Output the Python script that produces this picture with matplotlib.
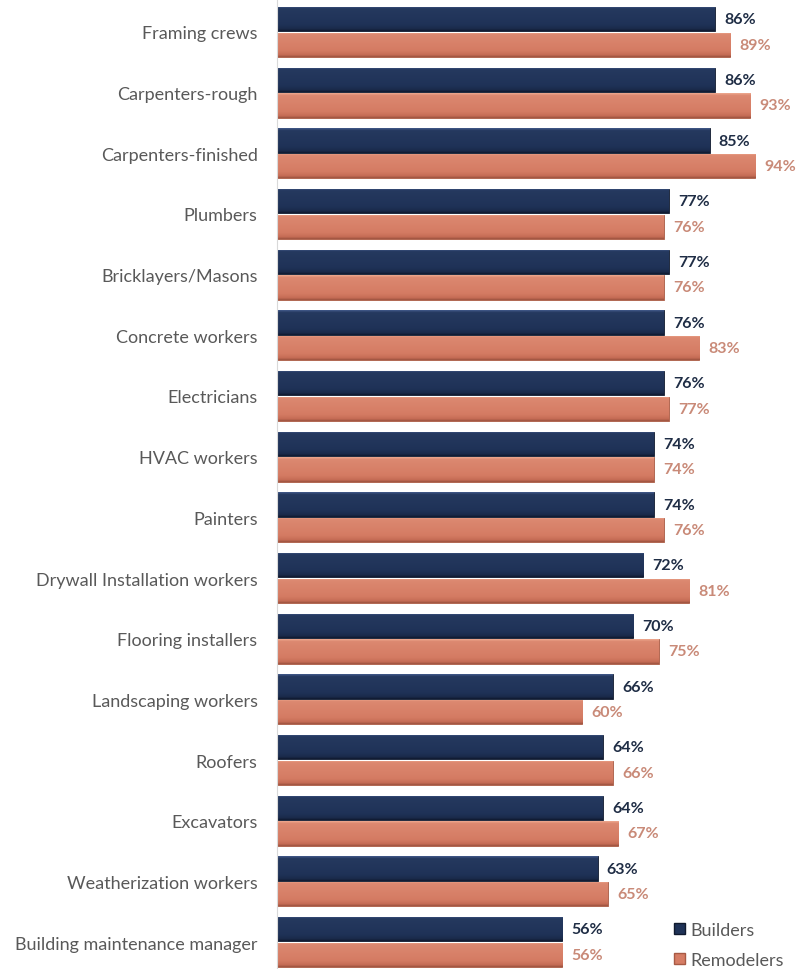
import numpy as np
import matplotlib.pyplot as plt
from matplotlib.colors import LinearSegmentedColormap
from matplotlib.patches import Patch

categories = [
    "Framing crews", "Carpenters-rough", "Carpenters-finished", "Plumbers",
    "Bricklayers/Masons", "Concrete workers", "Electricians", "HVAC workers",
    "Painters", "Drywall Installation workers", "Flooring installers",
    "Landscaping workers", "Roofers", "Excavators", "Weatherization workers",
    "Building maintenance manager",
]
builders = [86, 86, 85, 77, 77, 76, 76, 74, 74, 72, 70, 66, 64, 64, 63, 56]
remodelers = [89, 93, 94, 76, 76, 83, 77, 74, 76, 81, 75, 60, 66, 67, 65, 56]

NAVY = "#1f3257"
CORAL = "#d67d65"
navy_cmap = LinearSegmentedColormap.from_list(
    "navy", [(0, "#42598a"), (0.09, "#25395f"), (0.75, "#1f3257"),
             (0.92, "#1a2a4a"), (1, "#101a30")])
coral_cmap = LinearSegmentedColormap.from_list(
    "coral", [(0, "#eda88f"), (0.09, "#dc8870"), (0.75, "#d47b63"),
              (0.92, "#c56c55"), (1, "#9e5440")])

plt.rcParams["font.family"] = ["Lato", "DejaVu Sans"]

fig = plt.figure(figsize=(7.99, 9.70), dpi=100)
ax = fig.add_axes([277 / 799, 0, 522 / 799, 1])

y = np.arange(len(categories))
h = 0.40
off = 0.21
b_bars = ax.barh(y - off, builders, height=h, color=NAVY,
                 edgecolor="#101a2e", linewidth=0.6)
r_bars = ax.barh(y + off, remodelers, height=h, color=CORAL,
                 edgecolor="#a85a44", linewidth=0.6)

# bevel-like shading inside each bar
grad = np.linspace(0, 1, 64).reshape(-1, 1)
for bars, cmap in ((b_bars, navy_cmap), (r_bars, coral_cmap)):
    for p in bars:
        x0, y0, w, hh = p.get_x(), p.get_y(), p.get_width(), p.get_height()
        im = ax.imshow(grad, cmap=cmap, aspect="auto", origin="upper",
                       extent=[x0, x0 + w, y0 + hh, y0], zorder=2)
        im.set_clip_path(p)

for yi, v in zip(y, builders):
    ax.text(v + 1.8, yi - off, f"{v}%", va="center", ha="left",
            fontsize=11.5, fontweight="bold", color="#1f2d45")
for yi, v in zip(y, remodelers):
    ax.text(v + 1.8, yi + off, f"{v}%", va="center", ha="left",
            fontsize=11.5, fontweight="bold", color="#c98a78")

ax.set_xlim(0, 522 / 5.09)
ax.set_ylim(15 + 27 / 60.67, -33 / 60.67)
ax.set_yticks(y)
ax.set_yticklabels(categories, fontsize=13, color="#595959")
ax.tick_params(axis="y", length=0, pad=14)
ax.set_xticks([])
for s in ("top", "right", "bottom"):
    ax.spines[s].set_visible(False)
ax.spines["left"].set_color("#d9d9d9")
ax.spines["left"].set_linewidth(0.8)

handles = [Patch(facecolor=NAVY, edgecolor="#101a2e"),
           Patch(facecolor=CORAL, edgecolor="#a85a44")]
leg = ax.legend(handles, ["Builders", "Remodelers"], loc="lower right",
                bbox_to_anchor=(0.985, -0.006), frameon=False, fontsize=13,
                handlelength=0.6, handleheight=0.6, handletextpad=0.3,
                labelspacing=0.75, borderaxespad=0.0)
for t in leg.get_texts():
    t.set_color("#595959")

fig.savefig("out.png", dpi=100, facecolor="white")
